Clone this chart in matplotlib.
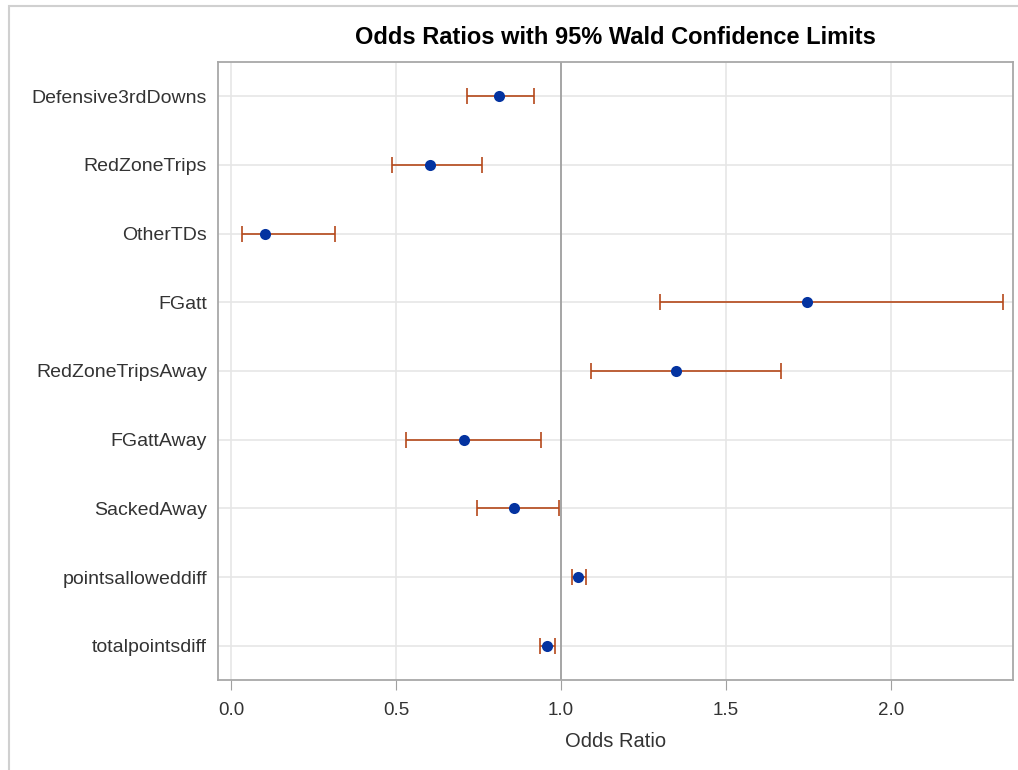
import matplotlib
matplotlib.use("Agg")
import matplotlib.pyplot as plt
from matplotlib.patches import Rectangle

effects = ["Defensive3rdDowns", "RedZoneTrips", "OtherTDs", "FGatt",
           "RedZoneTripsAway", "FGattAway", "SackedAway",
           "pointsalloweddiff", "totalpointsdiff"]
odds_ratio = [0.812, 0.603, 0.103, 1.746, 1.348, 0.706, 0.856, 1.052, 0.958]
lower_cl = [0.715, 0.486, 0.034, 1.299, 1.090, 0.530, 0.745, 1.032, 0.935]
upper_cl = [0.919, 0.759, 0.316, 2.339, 1.668, 0.939, 0.993, 1.075, 0.982]
xticks = [0.0, 0.5, 1.0, 1.5, 2.0]
xtick_labels = ["0.0", "0.5", "1.0", "1.5", "2.0"]

plt.rcParams['font.family'] = ['Liberation Sans', 'DejaVu Sans']

fig = plt.figure(figsize=(10.18, 7.7), dpi=100)
fig.patches.append(Rectangle((9/1018, -0.1), 1.2, 1 - 6/770 + 0.1,
                             transform=fig.transFigure, fill=False,
                             edgecolor='#D0D0D0', linewidth=1.5))
ax = fig.add_axes([218/1018, 1 - 680/770, (1013 - 218)/1018, (680 - 62)/770])

ypos = list(range(len(effects)))
xerr = [[o - l for o, l in zip(odds_ratio, lower_cl)],
        [u - o for o, u in zip(odds_ratio, upper_cl)]]

ax.axvline(1.0, color='#A0A0A0', linewidth=1.3, zorder=2)
ax.errorbar(odds_ratio, ypos, xerr=xerr, fmt='none', ecolor='#B5481A',
            elinewidth=1.2, capsize=6, capthick=1.2, zorder=3)
ax.plot(odds_ratio, ypos, 'o', color='#0433A0', markersize=8, zorder=4,
        markeredgewidth=0)

ax.set_xlim(-0.04, 2.37)
ax.set_ylim(len(effects) - 0.5, -0.5)
ax.set_yticks(ypos)
ax.set_yticklabels(effects, fontsize=14, color='#333333')
ax.set_xticks(xticks)
ax.set_xticklabels(xtick_labels, fontsize=13.5, color='#333333')
ax.tick_params(axis='y', length=0, pad=8)
ax.tick_params(axis='x', length=7, color='#A0A0A0', pad=9)

ax.grid(True, color='#E6E6E6', linewidth=1.2, zorder=0)
ax.set_axisbelow(True)
for s in ax.spines.values():
    s.set_color('#A8A8A8')
    s.set_linewidth(1.3)

ax.set_xlabel("Odds Ratio", fontsize=14.5, color='#333333', labelpad=9)
fig.text(615.5/1018, 1 - 38/770, "Odds Ratios with 95% Wald Confidence Limits",
         ha='center', va='center', fontsize=17, fontweight='bold', color='black')

fig.savefig("out.png", dpi=100)
